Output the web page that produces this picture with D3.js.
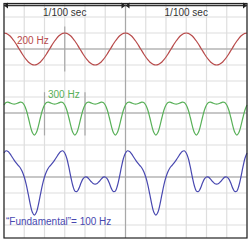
<!DOCTYPE html>
<html>
<head>
<meta charset="utf-8">
<script src="https://cdn.jsdelivr.net/npm/d3@7"></script>
<style>
  body { margin: 0; background: #fff; }
  text { font-family: "Liberation Sans", Arial, sans-serif; font-size: 10px; }
</style>
</head>
<body>
<script>
// samples every 1/6 ms over two 1/100 sec spans (0..20 ms), values in grid cells
const spanLabels = ["1/100 sec", "1/100 sec"];
const waveLabels = ["200 Hz", "300 Hz", "\u201CFundamental\u201D= 100 Hz"];

const red = [
  1, .98, .91, .81, .67, .5, .31, .1, -.1, -.31, -.5, -.67, -.81, -.91, -.98, -1, -.98, -.91, -.81, -.67, -.5, -.31, -.1, .1, .31, .5, .67, .81, .91, .98,
  1, .98, .91, .81, .67, .5, .31, .1, -.1, -.31, -.5, -.67, -.81, -.91, -.98, -1, -.98, -.91, -.81, -.67, -.5, -.31, -.1, .1, .31, .5, .67, .81, .91, .98,
  1, .98, .91, .81, .67, .5, .31, .1, -.1, -.31, -.5, -.67, -.81, -.91, -.98, -1, -.98, -.91, -.81, -.67, -.5, -.31, -.1, .1, .31, .5, .67, .81, .91, .98,
  1, .98, .91, .81, .67, .5, .31, .1, -.1, -.31, -.5, -.67, -.81, -.91, -.98, -1, -.98, -.91, -.81, -.67, -.5, -.31, -.1, .1, .31, .5, .67, .81, .91, .98,
  1
];

const green = [
  .5, .66, .68, .63, .58, .56, .58, .63, .68, .66, .5, .19, -.28, -.81, -1.22, -1.38, -1.22, -.81, -.28, .19,
  .5, .66, .68, .63, .58, .56, .58, .63, .68, .66, .5, .19, -.28, -.81, -1.22, -1.38, -1.22, -.81, -.28, .19,
  .5, .66, .68, .63, .58, .56, .58, .63, .68, .66, .5, .19, -.28, -.81, -1.22, -1.38, -1.22, -.81, -.28, .19,
  .5, .66, .68, .63, .58, .56, .58, .63, .68, .66, .5, .19, -.28, -.81, -1.22, -1.38, -1.22, -.81, -.28, .19,
  .5, .66, .68, .63, .58, .56, .58, .63, .68, .66, .5, .19, -.28, -.81, -1.22, -1.38, -1.22, -.81, -.28, .19,
  .5, .66, .68, .63, .58, .56, .58, .63, .68, .66, .5, .19, -.28, -.81, -1.22, -1.38, -1.22, -.81, -.28, .19,
  .5
];

const blue = [
  1.5, 1.64, 1.59, 1.44, 1.25, 1.06, .89, .73, .58, .35, 0, -.48, -1.09, -1.72, -2.2, -2.38, -2.2, -1.72, -1.09, -.48, 0, .35, .58, .73, .89, 1.06, 1.25, 1.44, 1.59, 1.64,
  1.5, 1.17, .63, 0, -.55, -.88, -.91, -.71, -.38, -.12, 0, -.01, -.13, -.28, -.4, -.44, -.4, -.28, -.13, -.01, 0, -.12, -.38, -.71, -.91, -.88, -.55, 0, .63, 1.17,
  1.5, 1.64, 1.59, 1.44, 1.25, 1.06, .89, .73, .58, .35, 0, -.48, -1.09, -1.72, -2.2, -2.38, -2.2, -1.72, -1.09, -.48, 0, .35, .58, .73, .89, 1.06, 1.25, 1.44, 1.59, 1.64,
  1.5, 1.17, .63, 0, -.55, -.88, -.91, -.71, -.38, -.12, 0, -.01, -.13, -.28, -.4, -.44, -.4, -.28, -.13, -.01, 0, -.12, -.38, -.71, -.91, -.88, -.55, 0, .63, 1.17,
  1.5
];

const W = 250, H = 240;
const svg = d3.select('body').append('svg')
    .attr('width', W)
    .attr('height', H);

// time in ms -> px, cells (value units) -> px
const xScale = d3.scaleLinear().domain([0, 20]).range([4, 247]);
const yScale = d3.scaleLinear().domain([0, 1]).range([49, 33]);
const baseline = [0, -4, -8];      // rows where each wave sits
const colors = ["#b84a4a", "#58b058", "#4848b0"];
const perMs = 6;

const frameTop = 3.5, frameBottom = 238;

// grid
const cells = d3.range(0, 13).map(k => k * 20 / 12);
svg.append('g').selectAll('line').data(cells).join('line')
    .attr('x1', d => xScale(d)).attr('x2', d => xScale(d))
    .attr('y1', frameTop).attr('y2', frameBottom)
    .attr('stroke', '#dedede').attr('stroke-width', 1.2);
svg.append('g').selectAll('line').data(d3.range(2, -12, -1)).join('line')
    .attr('x1', xScale(0)).attr('x2', xScale(20))
    .attr('y1', d => yScale(d)).attr('y2', d => yScale(d))
    .attr('stroke', '#dedede').attr('stroke-width', 1.2);

// wave axes
svg.append('g').selectAll('line').data(baseline).join('line')
    .attr('x1', xScale(0)).attr('x2', xScale(20))
    .attr('y1', d => yScale(d)).attr('y2', d => yScale(d))
    .attr('stroke', '#a0a0a0').attr('stroke-width', 1.2);

// period markers
const markers = [
  { t: 10, v0: 3, v1: -12 },
  { t: 5, v0: 1.4, v1: -1.4 },
  { t: 10 / 3, v0: -2.7, v1: -5.4 },
  { t: 20 / 3, v0: -2.7, v1: -5.4 }
];
svg.append('g').selectAll('line').data(markers).join('line')
    .attr('x1', d => xScale(d.t)).attr('x2', d => xScale(d.t))
    .attr('y1', d => Math.max(frameTop, yScale(d.v0))).attr('y2', d => Math.min(frameBottom, yScale(d.v1)))
    .attr('stroke', '#a8a8a8').attr('stroke-width', 1.2);

// waves
const line = d3.line()
    .x((d, i) => xScale(i / perMs))
    .curve(d3.curveCatmullRom);
[red, green, blue].forEach((s, j) => {
  svg.append('path')
      .datum(s)
      .attr('d', line.y(d => yScale(d + baseline[j])))
      .attr('fill', 'none')
      .attr('stroke', colors[j])
      .attr('stroke-width', 1.2);
});

// labels
svg.append('text').attr('x', 17).attr('y', 44).attr('fill', colors[0]).text(waveLabels[0]);
svg.append('text').attr('x', 48).attr('y', 98).attr('fill', colors[1]).text(waveLabels[1]);
svg.append('text').attr('x', 6).attr('y', 225).attr('fill', colors[2]).text(waveLabels[2]);

// frame
svg.append('rect')
    .attr('x', xScale(0)).attr('y', frameTop)
    .attr('width', xScale(20) - xScale(0)).attr('height', frameBottom - frameTop)
    .attr('fill', 'none').attr('stroke', '#222').attr('stroke-width', 1.2);

// dimension arrows
const dimY = 5.5;
const spans = [[0, 10], [10, 20]];
const dim = svg.append('g');
spans.forEach((sp, i) => {
  const a = xScale(sp[0]), b = xScale(sp[1]);
  dim.append('line').attr('x1', a).attr('x2', b).attr('y1', dimY).attr('y2', dimY)
      .attr('stroke', '#333').attr('stroke-width', 1.3);
  dim.append('path').attr('d', `M${a},${dimY}l4,-3v6z`).attr('fill', '#222');
  dim.append('path').attr('d', `M${b},${dimY}l-4,-3v6z`).attr('fill', '#222');
  dim.append('text').attr('x', (a + b) / 2).attr('y', 16)
      .attr('text-anchor', 'middle').attr('fill', '#333').text(spanLabels[i]);
});
</script>
</body>
</html>
